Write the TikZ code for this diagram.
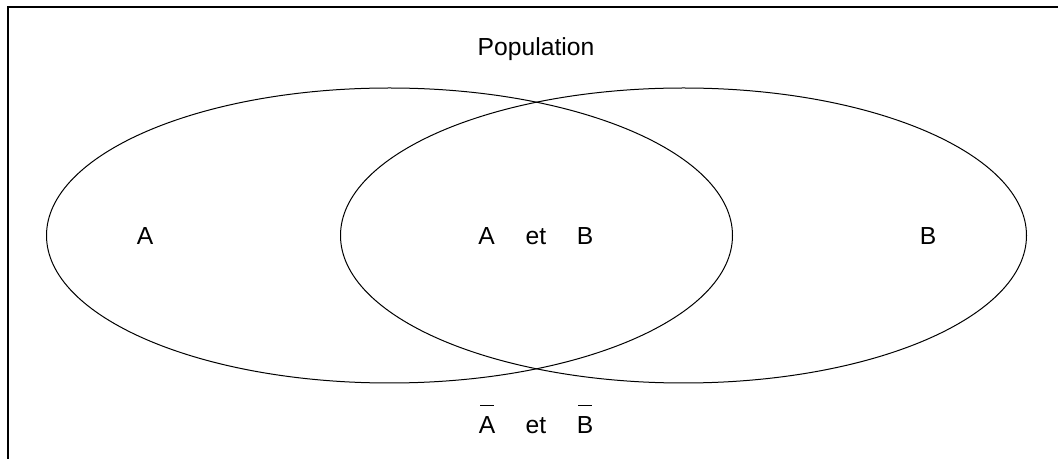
\documentclass[tikz,border=0pt]{standalone}
\usepackage{fontspec}
\setmainfont{Liberation Sans}
\newcommand{\barred}[1]{\setbox0\hbox{#1}\rlap{\hbox to\wd0{\hss\raisebox{\dimexpr\ht0+8pt\relax}{\rule{0.85\wd0}{0.75pt}}\hss}}\box0}
\tikzset{
  setline/.style={line width=0.75pt},
  framelines/.style={line width=1.1pt},
  lbl/.style={font=\fontsize{18.5}{22}\selectfont, anchor=base, inner sep=0pt}
}
\begin{document}
\begin{tikzpicture}[x=0.75pt, y=-0.75pt]
  \useasboundingbox (0,0) rectangle (1058,459);
  % frame
  \coordinate (fbl) at (8,459);
  \coordinate (ftr) at (1058,7);
  \draw[framelines] (fbl) |- (ftr);
  % the two sets
  \draw[setline] (389.5,235.5) ellipse [x radius=343, y radius=147.5];
  \draw[setline] (683.5,235.5) ellipse [x radius=343, y radius=147.5];
  % labels
  \node[lbl] (pop) at (536,56) {Population};
  \node[lbl] (a)   at (145,245) {A};
  \node[lbl] (ab1) at (486.5,245) {A};
  \node[lbl] (ab2) at (536,245) {et};
  \node[lbl] (ab3) at (585,245) {B};
  \node[lbl] (b)   at (928,245) {B};
  \node[lbl] (nab1) at (487,434) {\barred{A}};
  \node[lbl] (nab2) at (536,434) {et};
  \node[lbl] (nab3) at (585,434) {\barred{B}};
\end{tikzpicture}
\end{document}
